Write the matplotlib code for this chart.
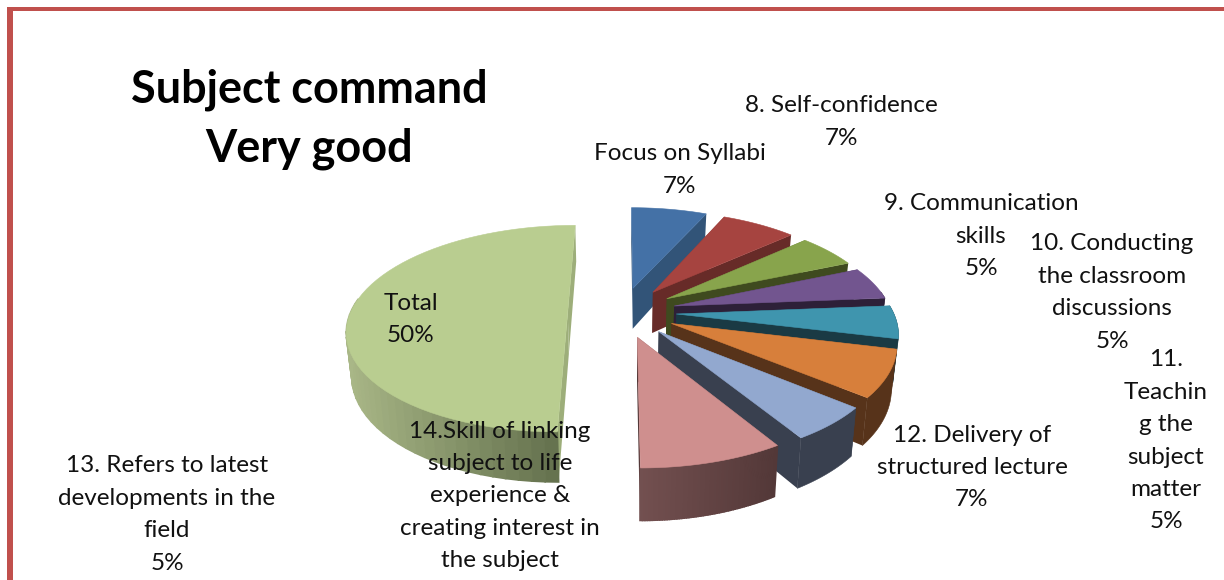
import numpy as np
import matplotlib
matplotlib.use("Agg")
import matplotlib.pyplot as plt
from matplotlib.patches import Polygon, Rectangle

plt.rcParams['font.family'] = ['Lato', 'DejaVu Sans']

# slices run clockwise from 12 o'clock
values = [6.7, 6.6, 5.3, 5.1, 5.1, 7.2, 5.25, 8.75, 50]
top_colors = ['#4471a6', '#a64440', '#88a44c', '#72558f', '#3f95ae',
              '#d77f3b', '#92a8cf', '#cf8f8e', '#b9cd90']
wall_colors = ['#325478', '#672b28', '#3f4a1f', '#2d2038', '#1a3a44',
               '#57331a', '#39404f', '#735050', '#a9b787']
wall_colors_dark = [None, None, None, None, None, None, None, '#533838', '#66734f']
face_colors = ['#325478', '#672b28', '#3f4a1f', '#2d2038', '#1a3a44',
               '#57331a', '#39404f', '#533838', '#9dae7a']

labels = [
    ['Focus on Syllabi', '7%'],
    ['8. Self-confidence', '7%'],
    ['9. Communication', 'skills', '5%'],
    ['10. Conducting', 'the classroom', 'discussions', '5%'],
    ['11.', 'Teachin', 'g the', 'subject', 'matter', '5%'],
    ['12. Delivery of', 'structured lecture', '7%'],
    ['13. Refers to latest', 'developments in the', 'field', '5%'],
    ['14.Skill of linking', 'subject to life', 'experience &', 'creating interest in', 'the subject'],
    ['Total', '50%'],
]
label_pos = [(680, 154), (841, 106), (981, 204), (1112, 244), (1166, 360),
             (972, 435), (167, 466), (500, 431), (411, 303)]
title_lines = ['Subject command', 'Very good']

# projection of the tilted pie
CX, CY = 622, 312
A, B, K = 217, 100.6, 0.161
DEPTH = 42
EXPLODE = 0.25


def project(u, v, low=False):
    d = 1 - K * v
    x = A * u / d
    y = B * v / d
    if low:
        return CX + x * 0.98, CY + y + DEPTH / d
    return CX + x, CY + y


def mix(c1, c2, t):
    a = np.array(matplotlib.colors.to_rgb(c1))
    b = np.array(matplotlib.colors.to_rgb(c2))
    return tuple(a + (b - a) * t)


fig = plt.figure(figsize=(12.24, 5.8), dpi=100)
ax = fig.add_axes([0, 0, 1, 1])
ax.set_xlim(0, 1224)
ax.set_ylim(580, 0)
ax.axis('off')

# red frame of the slide
ax.add_patch(Rectangle((7, 7), 1217, 3.5, color='#c0504d', lw=0))
ax.add_patch(Rectangle((7, 7), 6, 573, color='#c0504d', lw=0))

edges = np.cumsum([0] + values) / sum(values) * 2 * np.pi
for i in range(len(values)):
    a0, a1 = edges[i], edges[i + 1]
    mid = (a0 + a1) / 2
    cu, cv = EXPLODE * np.sin(mid), -EXPLODE * np.cos(mid)
    th = np.linspace(a0, a1, 60)
    us = cu + np.sin(th)
    vs = cv - np.cos(th)

    # radial walls
    for t in (a0, a1):
        ou, ov = cu + np.sin(t), cv - np.cos(t)
        pts = [project(cu, cv), project(ou, ov), project(ou, ov, True), project(cu, cv, True)]
        ax.add_patch(Polygon(pts, fc=face_colors[i], ec='none'))

    # outer wall, only the part facing the viewer
    front = -np.cos(th) > -0.15
    if wall_colors_dark[i] is None:
        if front.sum() > 1:
            top = [project(u, v) for u, v in zip(us[front], vs[front])]
            low = [project(u, v, True) for u, v in zip(us[front], vs[front])]
            ax.add_patch(Polygon(top + low[::-1], fc=wall_colors[i], ec=wall_colors[i], lw=0.4))
    else:
        px = np.array([project(u, v)[0] for u, v in zip(us, vs)])
        idx = np.where(front)[0]
        for j in idx[:-1]:
            pts = [project(us[j], vs[j]), project(us[j + 1], vs[j + 1]),
                   project(us[j + 1], vs[j + 1], True), project(us[j], vs[j], True)]
            c = mix(wall_colors[i], wall_colors_dark[i], (px[j] - px[idx].min()) / (px[idx].max() - px[idx].min()))
            ax.add_patch(Polygon(pts, fc=c, ec=c, lw=1.2))

    # top face
    pts = [project(cu, cv)] + [project(u, v) for u, v in zip(us, vs)]
    ax.add_patch(Polygon(pts, fc=top_colors[i], ec=top_colors[i], lw=0.4))

for (x, y), lines in zip(label_pos, labels):
    for n, line in enumerate(lines):
        ax.text(x, y + n * 32.4, line, ha='center', va='center', fontsize=17.5, color='#111111')

for n, line in enumerate(title_lines):
    ax.text(309, 90 + n * 59, line, ha='center', va='center', fontsize=32.4,
            fontweight='bold', color='black')

fig.savefig('out.png', dpi=100)
